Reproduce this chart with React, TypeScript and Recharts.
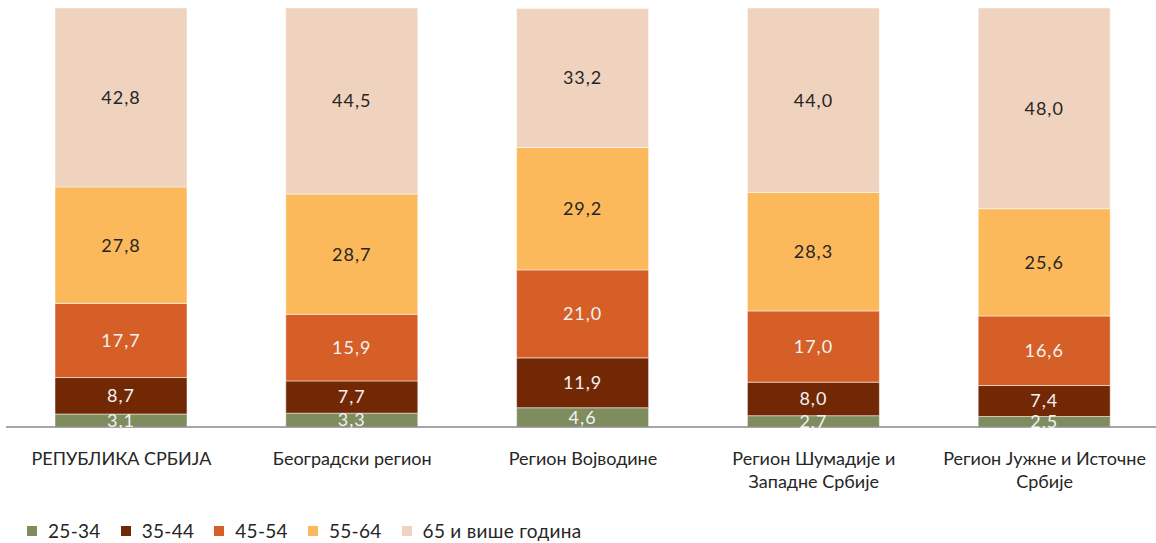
import { BarChart, Bar, XAxis, YAxis, Legend, LabelList } from "recharts"

const regions = [
  "РЕПУБЛИКА СРБИЈА",
  "Београдски регион",
  "Регион Војводине",
  "Регион Шумадије и|Западне Србије",
  "Регион Јужне и Источне|Србије",
]

const age25to34 = [3.1, 3.3, 4.6, 2.7, 2.5]
const age35to44 = [8.7, 7.7, 11.9, 8.0, 7.4]
const age45to54 = [17.7, 15.9, 21.0, 17.0, 16.6]
const age55to64 = [27.8, 28.7, 29.2, 28.3, 25.6]
const age65plus = [42.8, 44.5, 33.2, 44.0, 48.0]

const series = [
  { key: "a25", name: "25-34", values: age25to34, color: "#7f8c5e", text: "#f2f2f2" },
  { key: "a35", name: "35-44", values: age35to44, color: "#722805", text: "#f2f2f2" },
  { key: "a45", name: "45-54", values: age45to54, color: "#d55f27", text: "#f2f2f2" },
  { key: "a55", name: "55-64", values: age55to64, color: "#fcb95b", text: "#262626" },
  { key: "a65", name: "65 и више година", values: age65plus, color: "#f0d3be", text: "#262626" },
]

const data = regions.map((region, i) => {
  const row: Record<string, string | number> = { region }
  series.forEach((s) => (row[s.key] = s.values[i]))
  return row
})

const font = "Lato, 'Open Sans', sans-serif"

const fmt = (v: any) => Number(v).toFixed(1).replace(".", ",")

const RegionTick = ({ x, y, payload }: any) => {
  const lines = String(payload.value).split("|")
  return (
    <text x={x} y={y + 30} textAnchor="middle" fill="#262626" fontSize={18} fontFamily={font}>
      {lines.map((l, i) => (
        <tspan key={i} x={x} dy={i === 0 ? 0 : 23}>
          {l}
        </tspan>
      ))}
    </text>
  )
}

const LegendContent = () => (
  <div style={{ display: "flex", paddingLeft: 21, fontFamily: font, fontSize: 19, letterSpacing: 0.3, color: "#262626" }}>
    {series.map((s) => (
      <div key={s.key} style={{ display: "flex", alignItems: "center", marginRight: 20 }}>
        <span style={{ width: 10, height: 10, background: s.color, marginRight: 11, display: "inline-block" }} />
        <span>{s.name}</span>
      </div>
    ))}
  </div>
)

export default function App() {
  return (
    <div style={{ position: "absolute", left: 0, top: 0, width: 1156, height: 543, overflow: "hidden", background: "#fff" }}>
      <BarChart
        width={1160}
        height={543}
        data={data}
        margin={{ top: 8, right: 0, left: 6, bottom: 0 }}
        barSize={132}
      >
        <XAxis
          dataKey="region"
          tick={<RegionTick />}
          tickLine={false}
          axisLine={{ stroke: "#888888", strokeWidth: 1.5 }}
          height={92}
          interval={0}
        />
        <YAxis hide domain={[0, 100]} allowDataOverflow />
        <Legend verticalAlign="bottom" height={24} content={<LegendContent />} wrapperStyle={{ bottom: 0 }} />
        {series.map((s) => (
          <Bar
            key={s.key}
            dataKey={s.key}
            name={s.name}
            stackId="a"
            fill={s.color}
            stroke="#ffffff"
            strokeWidth={0.5}
            isAnimationActive={false}
          >
            <LabelList
              dataKey={s.key}
              position="center"
              formatter={fmt}
              fill={s.text}
              fontSize={18}
              fontFamily={font}
              style={{ letterSpacing: 1 }}
            />
          </Bar>
        ))}
      </BarChart>
    </div>
  )
}
